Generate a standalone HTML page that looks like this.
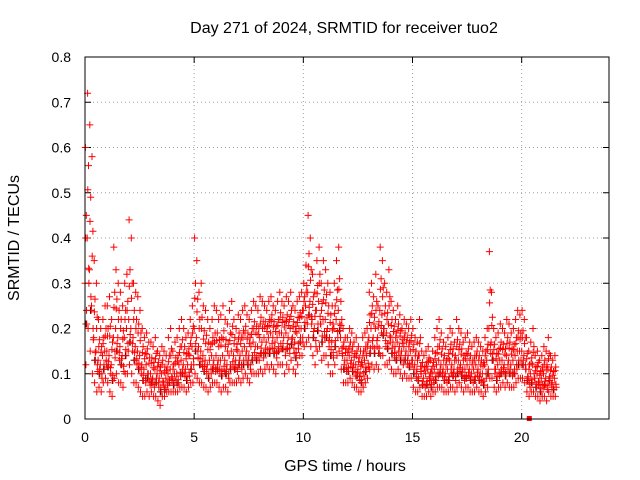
<!DOCTYPE html>
<html><head><meta charset="utf-8"><style>
html,body{margin:0;padding:0;background:#fff;}
svg{display:block;font-family:"Liberation Sans",sans-serif;}
</style></head><body>
<svg id="chart" width="640" height="480" viewBox="0 0 640 480">
<rect width="640" height="480" fill="#fff"/>
<text x="344" y="33" font-size="16" text-anchor="middle">Day 271 of 2024, SRMTID for receiver tuo2</text>
<text x="345" y="471" font-size="16" text-anchor="middle">GPS time / hours</text>
<text x="19" y="238" font-size="16" text-anchor="middle" transform="rotate(-90 19 238)">SRMTID / TECUs</text>
<g id="grid"></g>
<g id="ticks"></g>
<g id="marks"></g>
<rect x="85" y="57" width="524" height="362" fill="none" stroke="#000" stroke-width="1"/>
</svg>
<script>
const xTicks=[0,5,10,15,20];
const yTicks=[0,0.1,0.2,0.3,0.4,0.5,0.6,0.7,0.8];
const yTickLabels=["0","0.1","0.2","0.3","0.4","0.5","0.6","0.7","0.8"];
const timeStep=0.1;
const hiVals=[60,72,65,58,35,30,22,20,22,25, 25,27,22,38,33,30,28,25,30,32, 44,40,30,28,27,24,20,18,19,17, 17,16,18,15,14,16,15,14,18,20, 15,17,18,20,22,20,18,19,22,25, 40,35,28,30,25,24,22,20,22,25, 24,22,23,25,22,21,24,26,22,20, 23,22,24,25,23,22,24,26,25,24, 27,26,25,24,26,27,25,24,26,28, 26,25,27,26,28,25,24,26,27,28, 30,34,45,40,32,28,35,38,30,35, 33,30,28,25,30,35,38,26,20,18, 18,20,19,17,18,16,15,18,19,20, 28,30,27,32,25,38,35,30,28,33, 26,24,22,25,23,20,22,21,20,22, 20,18,17,22,15,14,15,16,13,15, 18,20,22,19,17,16,18,20,19,17, 22,20,19,17,18,19,17,16,17,18, 17,16,15,18,20,37,28,20,18,19, 21,20,19,22,21,19,20,22,24,23, 24,22,18,15,17,20,14,15,13,14, 16,15,18,14,13,14];
const midVals=[30,40,33,25,18,15,13,12,14,15, 15,14,12,18,20,18,16,14,18,20, 22,20,18,16,15,14,12,11,12,10, 10,9,11,10,9,10,8,9,10,11, 9,10,10,12,13,12,11,12,14,16, 20,18,16,15,14,13,12,13,14,13, 14,13,13,14,13,12,14,15,14,13, 15,14,15,16,15,14,16,17,16,16, 18,17,18,17,18,19,18,17,18,19, 19,18,19,18,20,18,17,19,20,20, 24,25,28,26,22,20,24,26,21,22, 22,20,18,17,20,22,24,18,14,13, 13,14,13,12,12,11,10,12,13,14, 18,20,18,20,18,24,23,20,19,21, 18,17,16,17,16,15,16,15,14,15, 13,12,11,14,10,9,10,11,9,10, 11,12,13,12,11,10,11,13,12,11, 13,13,12,11,11,12,11,10,11,12, 11,10,10,12,13,20,17,13,11,12, 13,13,12,14,13,12,13,14,15,15, 15,14,11,9,10,12,9,10,8,9, 10,9,11,9,8,9];
const loVals=[12,20,15,10,8,6,7,6,8,9, 8,6,5,9,10,8,8,7,10,10, 12,10,8,8,7,6,5,5,6,5, 6,5,5,4,3,5,5,6,6,6, 6,6,6,7,7,7,6,7,8,8, 10,9,8,8,7,7,6,7,8,8, 8,7,6,7,7,6,8,8,8,8, 9,8,9,10,9,8,10,10,10,10, 11,10,11,12,11,12,11,10,12,12, 12,10,12,11,13,11,10,12,14,14, 16,17,18,16,14,12,15,16,13,14, 14,12,10,10,12,14,15,11,8,8, 8,9,8,7,7,6,6,7,8,9, 11,12,11,12,11,14,14,12,12,13, 11,10,10,11,10,9,10,9,9,9, 7,6,6,7,5,5,5,6,5,6, 6,7,7,7,6,6,6,7,7,6, 7,8,7,6,7,7,6,6,6,7, 6,6,5,6,7,9,9,7,6,7, 7,8,7,8,7,7,7,8,9,9, 9,8,6,5,6,6,5,5,4,5, 5,4,6,5,5,5];
const squareT=[20.35];
const squareV=[0];

const X0=85,X1=609,Y0=419,Y1=57;
const xs=t=>X0+t/24*(X1-X0);
const ys=v=>Y0-v/0.8*(Y0-Y1);
const NS="http://www.w3.org/2000/svg";
const grid=document.getElementById('grid'),ticks=document.getElementById('ticks'),marks=document.getElementById('marks');
function mk(tag,attrs,parent){const e=document.createElementNS(NS,tag);for(const k in attrs)e.setAttribute(k,attrs[k]);parent.appendChild(e);return e;}
xTicks.forEach(t=>{
  const x=xs(t);
  if(t>0){const g=mk('line',{x1:x,x2:x,y1:Y1,y2:Y0,stroke:'#a0a0a0','stroke-dasharray':'1,3'},grid);
  
  }
  const l=mk('text',{x:x,y:Y0+23,'font-size':14,'text-anchor':'middle'},ticks);l.textContent=t;
  
  
  mk('line',{x1:x,x2:x,y1:Y0,y2:Y0-6,stroke:'#000'},ticks);
  mk('line',{x1:x,x2:x,y1:Y1,y2:Y1+6,stroke:'#000'},ticks);
});
yTicks.forEach((v,i)=>{
  const y=ys(v);
  if(i>0&&i<yTicks.length-1){const g=mk('line',{x1:X0,x2:X1,y1:y,y2:y,stroke:'#a0a0a0','stroke-dasharray':'1,3'},grid);
  
  }
  const l=mk('text',{x:X0-14,y:y+5,'font-size':14,'text-anchor':'end'},ticks);l.textContent=yTickLabels[i];
  
  
  mk('line',{x1:X0,x2:X0+6,y1:y,y2:y,stroke:'#000'},ticks);
  mk('line',{x1:X1,x2:X1-6,y1:y,y2:y,stroke:'#000'},ticks);
});
let d={red:'',black:''};
function plus(c,t,v){const x=xs(t),y=ys(v);d[c]+=`M${(x-3.5).toFixed(1)} ${y.toFixed(1)}h7M${x.toFixed(1)} ${(y-3.5).toFixed(1)}v7`;}
midVals.forEach((m,i)=>{
  const t=i*timeStep,hi=hiVals[i]/100,lo=loVals[i]/100,mid=m/100;
  if(i%2===0) plus('black',t+0.05,(lo+mid)/2);
  plus('red',t,mid);
  plus('red',t+0.02,hi);
  plus('red',t+0.04,lo);
  plus('red',t+0.06,(mid+hi)/2);
  plus('red',t+0.08,(lo+mid)/2);
  plus('red',t+0.03,(mid*2+hi)/3);
  plus('red',t+0.07,(mid*2+lo)/3);
});
const pb=mk('path',{d:d.black,stroke:'#000','stroke-width':1,fill:'none'},marks);


const pr=mk('path',{d:d.red,stroke:'#ff0000','stroke-width':1,fill:'none'},marks);


squareT.forEach((t,i)=>{
  const s=mk('rect',{x:xs(t)-2.5,y:ys(squareV[i])-3,width:5,height:5,fill:'#ff0000'},marks);
  
  
});
</script>
</body></html>
